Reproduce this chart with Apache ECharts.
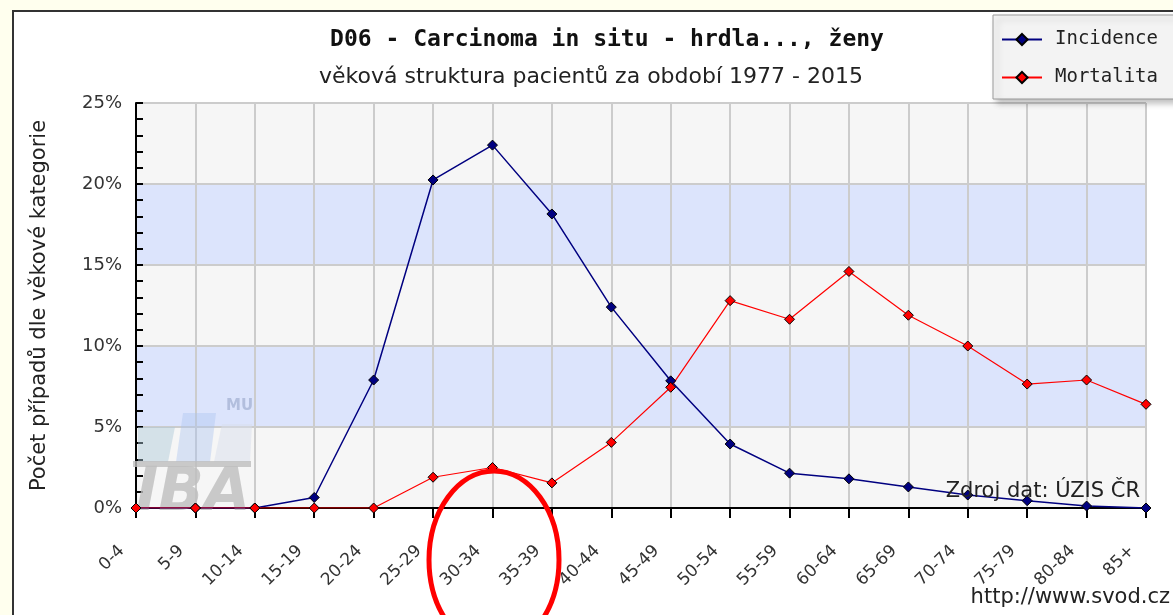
<!DOCTYPE html>
<html>
<head>
<meta charset="utf-8">
<script src="https://cdn.jsdelivr.net/npm/echarts@6/dist/echarts.min.js"></script>
<style>
  html, body { margin: 0; padding: 0; background: #ffffee; }
  #chart { width: 1173px; height: 615px; }
</style>
</head>
<body>
<div id="chart"></div>
<script>
// age categories
const categories = ['0-4', '5-9', '10-14', '15-19', '20-24', '25-29', '30-34', '35-39', '40-44',
  '45-49', '50-54', '55-59', '60-64', '65-69', '70-74', '75-79', '80-84', '85+'];
// share of cases per age group, %
const incidence = [0, 0, 0, 0.65, 7.9, 20.25, 22.4, 18.15, 12.4, 7.85, 3.95, 2.15, 1.8, 1.3, 0.8, 0.45, 0.12, 0];
const mortalita = [0, 0, 0, 0, 0, 1.9, 2.5, 1.55, 4.05, 7.45, 12.8, 11.65, 14.6, 11.9, 10.0, 7.65, 7.9, 6.4];
const yTicks = [0, 5, 10, 15, 20, 25];

const chart = echarts.init(document.getElementById('chart'));

const option = {
  backgroundColor: '#ffffee',
  animation: false,
  title: [
    {
      text: 'D06 - Carcinoma in situ - hrdla..., ženy',
      left: 602, top: 24, textAlign: 'center',
      textStyle: { fontFamily: 'DejaVu Sans Mono', fontWeight: 'bold', fontSize: 23, color: '#111' }
    },
    {
      text: 'věková struktura pacientů za období 1977 - 2015',
      left: 586, top: 61, textAlign: 'center',
      textStyle: { fontFamily: 'DejaVu Sans', fontWeight: 'normal', fontSize: 22, color: '#222' }
    }
  ],
  legend: {
    left: 993, top: 15,
    orient: 'vertical',
    padding: [15, 30, 12, 8],
    itemGap: 19,
    itemWidth: 40, itemHeight: 14,
    backgroundColor: '#f3f3f3',
    borderColor: '#999', borderWidth: 1,
    shadowColor: 'rgba(0,0,0,0.25)', shadowBlur: 6, shadowOffsetX: 4, shadowOffsetY: 4,
    textStyle: { fontFamily: 'DejaVu Sans Mono', fontSize: 19, color: '#222', padding: [0, 0, 0, 8] },
    data: ['Incidence', 'Mortalita']
  },
  grid: { left: 136, right: 27, top: 103, bottom: 107 },
  xAxis: {
    type: 'category',
    data: categories,
    boundaryGap: false,
    axisLine: { lineStyle: { color: '#000', width: 2 } },
    axisTick: { alignWithLabel: true, length: 10, lineStyle: { color: '#000', width: 2 } },
    axisLabel: {
      rotate: 45, interval: 0, margin: 26, padding: [0, 20, 0, 0],
      fontFamily: 'DejaVu Sans', fontSize: 17, color: '#333'
    },
    splitLine: { show: true, lineStyle: { color: '#cccccc', width: 2 } }
  },
  yAxis: {
    type: 'value',
    min: yTicks[0], max: yTicks[yTicks.length - 1], interval: 5,
    name: 'Počet případů dle věkové kategorie',
    nameLocation: 'middle', nameGap: 86,
    nameTextStyle: { fontFamily: 'DejaVu Sans', fontSize: 21, color: '#222' },
    axisLine: { show: true, lineStyle: { color: '#000', width: 2 } },
    axisTick: { show: true, inside: true, length: 7, lineStyle: { color: '#000', width: 2 } },
    minorTick: { show: true, splitNumber: 5, length: 7, lineStyle: { color: '#000', width: 2 } },
    axisLabel: { formatter: '{value}%', margin: 14, fontFamily: 'DejaVu Sans', fontSize: 18, color: '#333' },
    splitLine: { show: true, lineStyle: { color: '#cccccc', width: 2 } },
    splitArea: { show: true, areaStyle: { color: ['#f6f6f6', '#dce4fc'] } }
  },
  graphic: [
    // white panel with dark frame
    { type: 'rect', z: -10, shape: { x: 13, y: 11, width: 1300, height: 700 },
      style: { fill: '#ffffff', stroke: '#333', lineWidth: 2 } },
    // IBA watermark
    { type: 'polygon', z: 1, shape: { points: [[138, 427], [175, 427], [168, 462], [138, 462]] },
      style: { fill: 'rgba(170,200,215,0.45)' } },
    { type: 'polygon', z: 1, shape: { points: [[183, 413], [216, 413], [210, 462], [176, 462]] },
      style: { fill: 'rgba(170,195,240,0.4)' } },
    { type: 'polygon', z: 1, shape: { points: [[222, 424], [252, 424], [250, 462], [214, 462]] },
      style: { fill: 'rgba(215,222,235,0.5)' } },
    { type: 'rect', z: 1, shape: { x: 133, y: 461, width: 118, height: 6 },
      style: { fill: 'rgba(190,190,190,0.8)' } },
    { type: 'text', z: 1, left: 136, top: 464,
      style: { text: 'IBA', fill: 'rgba(190,190,190,0.8)', font: 'italic bold 60px "DejaVu Sans"' } },
    { type: 'text', z: 1, left: 226, top: 399,
      style: { text: 'MU', fill: 'rgba(150,165,200,0.6)', font: 'bold 15px "DejaVu Sans"' } },
    // source notes
    { type: 'text', z: 5, right: 33, top: 481,
      style: { text: 'Zdroj dat: ÚZIS ČR', fill: '#222', font: '21px "DejaVu Sans"' } },
    { type: 'text', z: 5, right: 3, top: 587,
      style: { text: 'http://www.svod.cz', fill: '#222', font: '21px "DejaVu Sans"' } },
    // red annotation ring
    { type: 'ellipse', z: 100, shape: { cx: 494, cy: 560, rx: 65, ry: 89 },
      style: { fill: 'none', stroke: '#ff0000', lineWidth: 5 } }
  ],
  series: [
    {
      name: 'Incidence', type: 'line', data: incidence,
      symbol: 'diamond', symbolSize: 10,
      lineStyle: { color: '#000080', width: 1.5 },
      itemStyle: { color: '#000080', borderColor: '#000', borderWidth: 1 }
    },
    {
      name: 'Mortalita', type: 'line', data: mortalita,
      symbol: 'diamond', symbolSize: 10,
      lineStyle: { color: '#ff0000', width: 1.2 },
      itemStyle: { color: '#ff0000', borderColor: '#000', borderWidth: 1 }
    }
  ]
};

chart.setOption(option);
</script>
</body>
</html>
